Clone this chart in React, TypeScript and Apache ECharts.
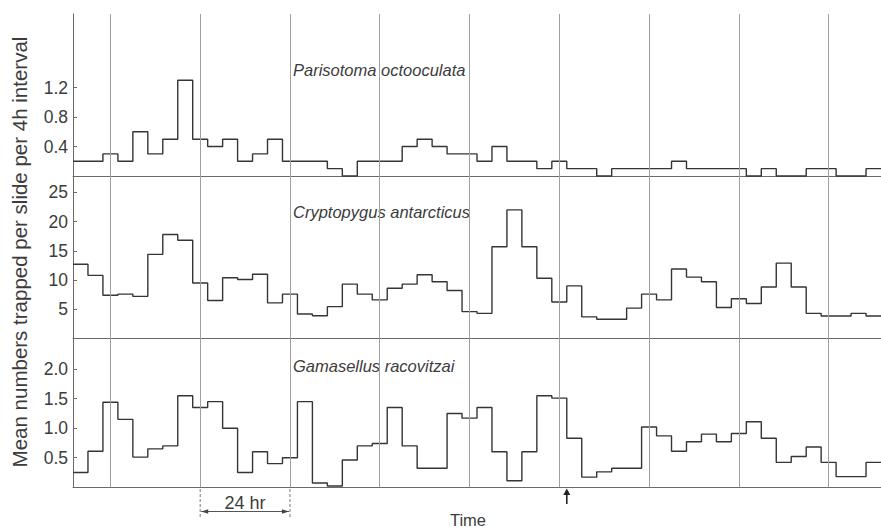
import React, { useEffect, useRef } from "react";
import * as echarts from "echarts";

// Mean numbers per 4h interval (54 consecutive intervals)
const parisotoma = [
  0.2, 0.2, 0.3, 0.2, 0.6, 0.3, 0.5, 1.3, 0.5, 0.4, 0.5, 0.2, 0.3, 0.5, 0.2, 0.2, 0.2, 0.1,
  0, 0.2, 0.2, 0.2, 0.4, 0.5, 0.4, 0.3, 0.3, 0.2, 0.4, 0.2, 0.2, 0.1, 0.2, 0.1, 0.1, 0,
  0.1, 0.1, 0.1, 0.1, 0.2, 0.1, 0.1, 0.1, 0.1, 0, 0.1, 0, 0, 0.1, 0.1, 0, 0, 0.1,
];
const cryptopygus = [
  12.7, 10.8, 7.4, 7.6, 7.2, 14.4, 17.8, 16.8, 9.5, 6.5, 10.4, 10.1, 11.0, 6.1, 7.6, 4.2, 3.9, 5.45,
  9.3, 7.6, 6.6, 8.6, 9.3, 10.9, 9.7, 8.2, 4.6, 4.3, 15.7, 22.0, 15.7, 10.3, 6.25, 9.0, 3.7, 3.3,
  3.3, 5.2, 7.6, 6.6, 11.9, 10.5, 9.7, 5.3, 6.8, 6.0, 8.8, 12.9, 8.8, 4.3, 3.85, 3.85, 4.3, 3.85,
];
const gamasellus = [
  0.25, 0.61, 1.44, 1.15, 0.51, 0.65, 0.7, 1.55, 1.35, 1.45, 1.0, 0.25, 0.6, 0.4, 0.5, 1.45, 0.07, 0.02,
  0.46, 0.7, 0.74, 1.35, 0.7, 0.32, 0.32, 1.25, 1.17, 1.35, 0.6, 0.11, 0.6, 1.55, 1.51, 0.83, 0.17, 0.26,
  0.32, 0.32, 1.02, 0.87, 0.61, 0.77, 0.9, 0.77, 0.91, 1.11, 0.83, 0.42, 0.52, 0.68, 0.42, 0.18, 0.18, 0.42,
];

const speciesNames = ["Parisotoma octooculata", "Cryptopygus antarcticus", "Gamasellus racovitzai"];
const parisotomaTicks = [0.4, 0.8, 1.2];
const cryptopygusTicks = [5, 10, 15, 20, 25];
const gamasellusTicks = [0.5, 1.0, 1.5, 2.0];
const yMaxes = [2.2, 27.8, 2.52];
// day boundaries (in 4h-interval units)
const dayLines = [2.5, 8.5, 14.5, 20.5, 26.5, 32.5, 38.5, 44.5, 50.5];
const dayBarStart = 8.5;
const dayBarEnd = 14.5;
const arrowTime = 33;
const yTitle = "Mean numbers trapped per slide per 4h interval";

const FONT = "'Liberation Sans', Arial, Helvetica, sans-serif";
const LINE = "#353535";
const GRIDC = "#a0a0a0";
const AXISC = "#6a6a6a";
const TEXTC = "#3c3c3c";

const toSteps = (vals: number[]) =>
  vals.map((v, i) => [i, v]).concat([[vals.length, vals[vals.length - 1]]]);

export default function App() {
  const ref = useRef<HTMLDivElement>(null);
  useEffect(() => {
    document.body.style.margin = "0";
    if (!ref.current) return;
    const chart = echarts.init(ref.current, null, { renderer: "svg" });
    const n = parisotoma.length;
    const grids = [
      { left: 73, right: 0, top: 14, height: 162 },
      { left: 73, right: 0, top: 176, height: 162.5 },
      { left: 73, right: 0, top: 338.5, height: 148.7 },
    ];
    const allVals = [parisotoma, cryptopygus, gamasellus];
    const ticks = [parisotomaTicks, cryptopygusTicks, gamasellusTicks];
    const fmt = [
      (v: number) => v.toFixed(1),
      (v: number) => String(Math.round(v)),
      (v: number) => v.toFixed(1),
    ];
    chart.setOption({
      animation: false,
      grid: grids,
      xAxis: grids.map((_, i) => ({
        type: "value",
        gridIndex: i,
        min: 0,
        max: n,
        axisLine: { show: true, lineStyle: { color: AXISC, width: 1 } },
        axisTick: { show: false },
        axisLabel: { show: false },
        splitLine: { show: false },
      })),
      yAxis: grids.map((_, i) => ({
        type: "value",
        gridIndex: i,
        min: 0,
        max: yMaxes[i],
        axisLine: { show: true, lineStyle: { color: AXISC, width: 1 } },
        axisTick: {
          show: true,
          inside: true,
          length: 4,
          customValues: ticks[i],
          lineStyle: { color: AXISC },
        },
        axisLabel: {
          show: true,
          customValues: ticks[i],
          formatter: fmt[i],
          fontFamily: FONT,
          fontSize: 17.5,
          color: TEXTC,
          margin: 5,
        },
        splitLine: { show: false },
      })),
      series: allVals.map((vals, i) => ({
        type: "line",
        xAxisIndex: i,
        yAxisIndex: i,
        step: "end",
        symbol: "none",
        data: toSteps(vals),
        lineStyle: { color: LINE, width: 1.4 },
        clip: false,
        markLine: {
          silent: true,
          symbol: "none",
          label: { show: false },
          lineStyle: { color: GRIDC, width: 1, type: "solid" },
          data: dayLines.map((d) => ({ xAxis: d })),
        },
      })),
    });

    const xa = (v: number) => chart.convertToPixel({ xAxisIndex: 2 }, v) as number;
    const x0 = xa(dayBarStart);
    const x1 = xa(dayBarEnd);
    const xArrow = xa(arrowTime);
    const yBar = 511.5;
    chart.setOption({
      graphic: [
        {
          type: "text",
          x: 19,
          y: 252,
          rotation: Math.PI / 2,
          style: {
            text: yTitle,
            fontFamily: FONT,
            fontSize: 20.5,
            fill: TEXTC,
            textAlign: "center",
            textVerticalAlign: "middle",
          },
        },
        ...speciesNames.map((s, i) => ({
          type: "text",
          x: 293,
          y: [70, 212, 366][i],
          style: {
            text: s,
            fontFamily: FONT,
            fontStyle: "italic",
            fontSize: 16.5,
            fill: TEXTC,
            textAlign: "left",
            textVerticalAlign: "middle",
          },
        })),
        {
          type: "line",
          shape: { x1: x0, y1: 489, x2: x0, y2: 517 },
          style: { stroke: "#777", lineWidth: 1, lineDash: [3, 2] },
        },
        {
          type: "line",
          shape: { x1: x1, y1: 489, x2: x1, y2: 517 },
          style: { stroke: "#777", lineWidth: 1, lineDash: [3, 2] },
        },
        {
          type: "line",
          shape: { x1: x0 + 1, y1: yBar, x2: x1 - 1, y2: yBar },
          style: { stroke: "#555", lineWidth: 1 },
        },
        {
          type: "polygon",
          shape: { points: [[x0 + 1, yBar], [x0 + 8, yBar - 2.2], [x0 + 8, yBar + 2.2]] },
          style: { fill: "#444" },
        },
        {
          type: "polygon",
          shape: { points: [[x1 - 1, yBar], [x1 - 8, yBar - 2.2], [x1 - 8, yBar + 2.2]] },
          style: { fill: "#444" },
        },
        {
          type: "text",
          x: (x0 + x1) / 2,
          y: 502.5,
          style: {
            text: "24 hr",
            fontFamily: FONT,
            fontSize: 18,
            fill: TEXTC,
            textAlign: "center",
            textVerticalAlign: "middle",
          },
        },
        {
          type: "line",
          shape: { x1: xArrow, y1: 493, x2: xArrow, y2: 504 },
          style: { stroke: "#222", lineWidth: 1.6 },
        },
        {
          type: "polygon",
          shape: { points: [[xArrow, 488.5], [xArrow - 3.5, 495], [xArrow + 3.5, 495]] },
          style: { fill: "#222" },
        },
        {
          type: "text",
          x: 468,
          y: 528,
          style: {
            text: "Time",
            fontFamily: FONT,
            fontSize: 16.5,
            fill: TEXTC,
            textAlign: "center",
            textVerticalAlign: "bottom",
          },
        },
      ],
    });
    return () => chart.dispose();
  }, []);
  return (
    <div
      ref={ref}
      style={{ position: "absolute", left: 0, top: 0, width: 881, height: 528, background: "#fff" }}
    />
  );
}
